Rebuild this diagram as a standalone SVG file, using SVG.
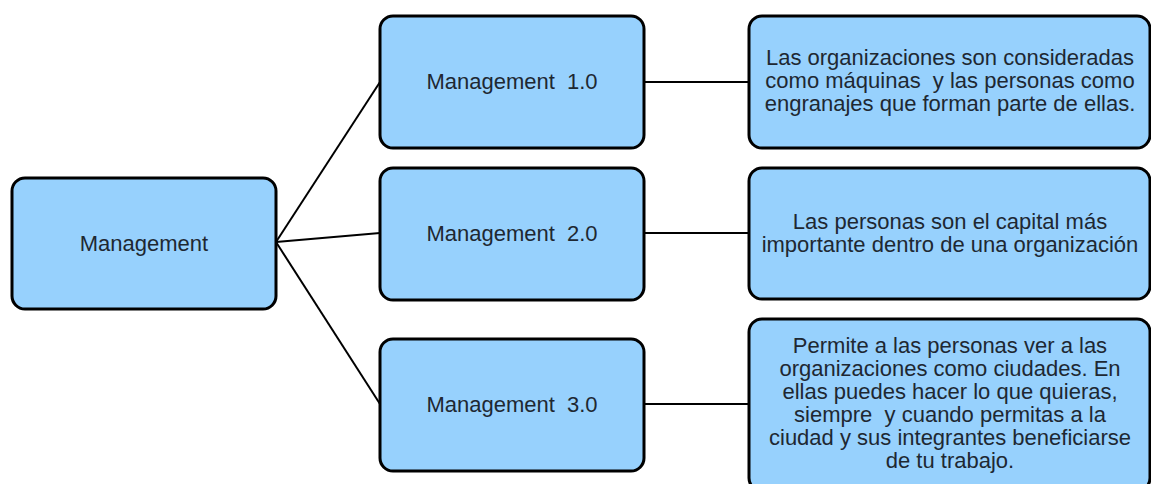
<svg xmlns="http://www.w3.org/2000/svg" width="1151" height="484" viewBox="0 0 1151 484">
  <style>
    .box { fill: #97d1fd; stroke: #000; stroke-width: 3; }
    .lbl { font-family: "Liberation Sans", Arial, sans-serif; font-size: 22px; fill: #1e2832; text-anchor: middle; white-space: pre; }
    .link { stroke: #000; stroke-width: 2; fill: none; }
  </style>
  <rect width="1151" height="484" fill="#fff"/>

  <!-- connectors -->
  <g id="connectors">
    <line class="link" x1="276" y1="242" x2="380" y2="82"/>
    <line class="link" x1="276" y1="242" x2="380" y2="233"/>
    <line class="link" x1="276" y1="242" x2="380" y2="404"/>
    <line class="link" x1="644" y1="82" x2="749" y2="82"/>
    <line class="link" x1="644" y1="233" x2="749" y2="233"/>
    <line class="link" x1="644" y1="404" x2="749" y2="404"/>
  </g>

  <!-- root -->
  <g id="management">
    <rect class="box" x="12" y="178" width="264" height="131" rx="13"/>
    <text class="lbl" x="144" y="251">Management</text>
  </g>

  <!-- generations -->
  <g id="management-1">
    <rect class="box" x="380" y="16" width="264" height="132" rx="13"/>
    <text class="lbl" x="512" y="89">Management  1.0</text>
  </g>
  <g id="management-2">
    <rect class="box" x="380" y="168" width="264" height="132" rx="13"/>
    <text class="lbl" x="512" y="241">Management  2.0</text>
  </g>
  <g id="management-3">
    <rect class="box" x="380" y="339" width="264" height="132" rx="13"/>
    <text class="lbl" x="512" y="412">Management  3.0</text>
  </g>

  <!-- descriptions -->
  <g id="desc-1">
    <rect class="box" x="749" y="16" width="401" height="132" rx="13"/>
    <text class="lbl" x="950" y="65">Las organizaciones son consideradas</text>
    <text class="lbl" x="950" y="88">como máquinas  y las personas como</text>
    <text class="lbl" x="950" y="111">engranajes que forman parte de ellas.</text>
  </g>
  <g id="desc-2">
    <rect class="box" x="749" y="168" width="401" height="131" rx="13"/>
    <text class="lbl" x="950" y="229">Las personas son el capital más</text>
    <text class="lbl" x="950" y="252">importante dentro de una organización</text>
  </g>
  <g id="desc-3">
    <rect class="box" x="749" y="319" width="401" height="172" rx="13"/>
    <text class="lbl" x="950" y="353">Permite a las personas ver a las</text>
    <text class="lbl" x="950" y="376">organizaciones como ciudades. En</text>
    <text class="lbl" x="950" y="399">ellas puedes hacer lo que quieras,</text>
    <text class="lbl" x="950" y="422">siempre  y cuando permitas a la</text>
    <text class="lbl" x="950" y="445">ciudad y sus integrantes beneficiarse</text>
    <text class="lbl" x="950" y="468">de tu trabajo.</text>
  </g>
</svg>
